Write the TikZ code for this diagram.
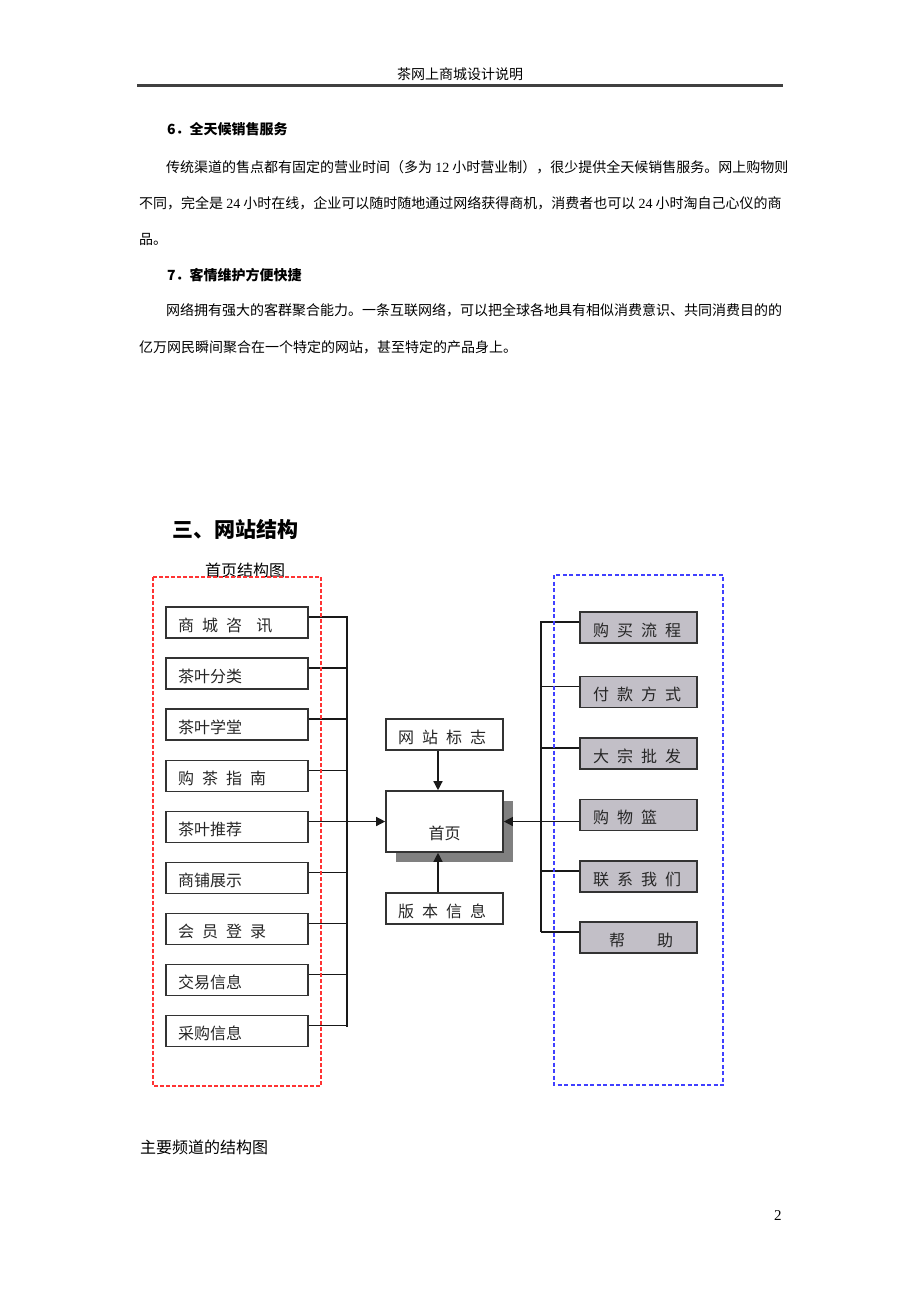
\documentclass[tikz,border=0pt]{standalone}
\usepackage{fontspec}
\setmainfont{Noto Sans CJK SC}
\newfontfamily\latinfont{Liberation Serif}
\usepackage{tikz}
\usetikzlibrary{arrows.meta,shadows}
\definecolor{redframe}{rgb}{1.0, 0.2, 0.2}
\definecolor{blueframe}{rgb}{0.25, 0.25, 1.0}
\definecolor{silverbox}{rgb}{0.76, 0.75, 0.78}
\definecolor{shadowgray}{rgb}{0.5, 0.5, 0.5}
\newcommand{\spc}{\hspace{0.5em}}
\newcommand{\fsize}[1]{\fontsize{#1}{#1}\selectfont}

\begin{document}
\begin{tikzpicture}[x=1pt,y=-1pt,
    txt/.style={anchor=west,inner sep=0pt,font=\fsize{14pt}},
    lbox/.style={draw=black!80,line width=1.6pt,minimum height=31pt,text width=118pt,inner xsep=12pt,inner ysep=0pt,text height=17pt,text depth=0pt,align=left,font=\fsize{16pt},text=black!85},
    rbox/.style={lbox,fill=silverbox,text width=91pt,inner xsep=13pt},
    mbox/.style={lbox,text width=93pt},
    conn/.style={line width=1.3pt,black!90},
    arr/.style={conn,-{Triangle[length=9pt,width=9pt]}}]
    \useasboundingbox (0,0) rectangle (920,1302);
    % page text
    \node[txt,anchor=center] (hdr) at (460,74) {茶网上商城设计说明};
    \draw[line width=2.2pt,black!75] (137,85.5) -- (783,85.5);
    \node[txt,font=\fsize{14pt}\bfseries] (h6) at (167,129) {6．全天候销售服务};
    \node[txt] (p1) at (166,167) {传统渠道的售点都有固定的营业时间（多为 {\latinfont 12} 小时营业制），很少提供全天候销售服务。网上购物则};
    \node[txt] (p2) at (139,203) {不同，完全是 {\latinfont 24} 小时在线，企业可以随时随地通过网络获得商机，消费者也可以 {\latinfont 24} 小时淘自己心仪的商};
    \node[txt] (p3) at (139,239) {品。};
    \node[txt,font=\fsize{14pt}\bfseries] (h7) at (167,275) {7．客情维护方便快捷};
    \node[txt] (p4) at (166,310) {网络拥有强大的客群聚合能力。一条互联网络，可以把全球各地具有相似消费意识、共同消费目的的};
    \node[txt] (p5) at (139,347) {亿万网民瞬间聚合在一个特定的网站，甚至特定的产品身上。};
    \node[txt,font=\fsize{21pt}\bfseries] (sec) at (172,529) {三、网站结构};
    \node[txt,font=\fsize{16pt}] (cap) at (205,570) {首页结构图};
    \node[txt,font=\fsize{16pt}] (foot) at (140,1147) {主要频道的结构图};
    \node[txt,font=\latinfont\fsize{15pt}] (pno) at (774,1216) {2};
    % left column
    \node[lbox] (l1) at (237,622.5) {商\spc{}城\spc{}咨\hspace{0.9em}讯};
    \node[lbox] (l2) at (237,673.5) {茶叶分类};
    \node[lbox] (l3) at (237,724.5) {茶叶学堂};
    \node[lbox] (l4) at (237,776) {购\spc{}茶\spc{}指\spc{}南};
    \node[lbox] (l5) at (237,827) {茶叶推荐};
    \node[lbox] (l6) at (237,878) {商铺展示};
    \node[lbox] (l7) at (237,929) {会\spc{}员\spc{}登\spc{}录};
    \node[lbox] (l8) at (237,980) {交易信息};
    \node[lbox] (l9) at (237,1031) {采购信息};
    % middle
    \node[mbox] (logo) at (444.5,734.5) {网\spc{}站\spc{}标\spc{}志};
    \node[mbox,align=center,text height=36pt,minimum height=61pt,fill=white,drop shadow={shadow xshift=9.5pt,shadow yshift=-9.5pt,fill=shadowgray,opacity=1}] (home) at (444.5,821.5) {首页};
    \node[mbox] (ver) at (444.5,908.5) {版\spc{}本\spc{}信\spc{}息};
    % right column
    \node[rbox] (r1) at (638.5,627.5) {购\spc{}买\spc{}流\spc{}程};
    \node[rbox] (r2) at (638.5,692) {付\spc{}款\spc{}方\spc{}式};
    \node[rbox] (r3) at (638.5,753.5) {大\spc{}宗\spc{}批\spc{}发};
    \node[rbox] (r4) at (638.5,815) {购\spc{}物\spc{}篮};
    \node[rbox] (r5) at (638.5,876.5) {联\spc{}系\spc{}我\spc{}们};
    \node[rbox] (r6) at (638.5,937.5) {\hspace*{1em}帮\hspace{2em}助};
    % connectors
    \coordinate (tl) at (347,1026);
    \coordinate (tr) at (541,932);
    \draw[conn] ([yshift=5.5pt]l1.east) -| (tl);
    \draw[conn] ([yshift=5.5pt]l2.east) -| (tl);
    \draw[conn] ([yshift=5.5pt]l3.east) -| (tl);
    \draw[conn] ([yshift=5.5pt]l4.east) -| (tl);
    \draw[conn] ([yshift=5.5pt]l5.east) -| (tl);
    \draw[conn] ([yshift=5.5pt]l6.east) -| (tl);
    \draw[conn] ([yshift=5.5pt]l7.east) -| (tl);
    \draw[conn] ([yshift=5.5pt]l8.east) -| (tl);
    \draw[conn] ([yshift=5.5pt]l9.east) -| (tl);
    \draw[arr] (tl |- home.west) -- (home.west);
    \draw[conn] ([yshift=5.5pt]r1.west) -| (tr);
    \draw[conn] ([yshift=5.5pt]r2.west) -| (tr);
    \draw[conn] ([yshift=5.5pt]r3.west) -| (tr);
    \draw[conn] (r4.west |- home.east) -| (tr);
    \draw[conn] ([yshift=5.5pt]r5.west) -| (tr);
    \draw[conn] ([yshift=5.5pt]r6.west) -| (tr);
    \draw[arr] (tr |- home.east) -- (home.east);
    \draw[arr] ([xshift=-6.5pt]logo.south) -- ([xshift=-6.5pt]home.north);
    \draw[arr] ([xshift=-6.5pt]ver.north) -- ([xshift=-6.5pt]home.south);
    % frames
    \draw[redframe,line width=1.4pt,dash pattern=on 4pt off 2pt] (153,577) rectangle (321,1086);
    \draw[blueframe,line width=1.4pt,dash pattern=on 4pt off 2.5pt] (554,575) rectangle (723,1085);
\end{tikzpicture}
\end{document}
